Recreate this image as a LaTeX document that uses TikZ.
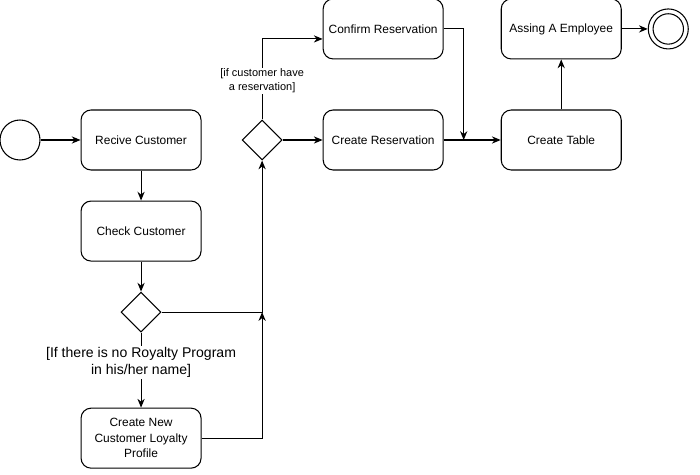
\documentclass[tikz,border=0pt]{standalone}
\usepackage{fontspec}
\setmainfont{Liberation Sans}
\usetikzlibrary{arrows.meta,positioning,shapes.geometric}

\tikzset{
	activity/.style={draw, rounded corners=0.25cm, minimum width=3cm, minimum height=1.5cm, align=center, font=\fontsize{8.5}{11}\selectfont},
	decision/.style={draw, diamond, minimum width=1cm, minimum height=1cm, inner sep=0pt},
	startstate/.style={draw, circle, minimum size=1cm, inner sep=0pt},
	endstate/.style={draw, circle, minimum size=1cm, inner sep=0pt, path picture={\draw (path picture bounding box.center) circle (0.38cm);}},
	flow/.style={-{Stealth[length=0.22cm,width=0.18cm]}},
	guard/.style={fill=white, align=center, inner sep=1pt, font=\fontsize{10}{12.2}\selectfont},
	cond/.style={fill=white, align=center, inner sep=1pt, font=\fontsize{7.8}{9.5}\selectfont}
}

\begin{document}
\begin{tikzpicture}[line width=0.75pt]
		
		\useasboundingbox (0,0) rectangle (17.5,-11.875);
		
		%start
		\node[startstate] (start) at (0.5,-3.5) {};
		%receive
		\node[activity, right=1cm of start] (rc) {Recive Customer};
		%check
		\node[activity, below=0.75cm of rc] (cc) {Check Customer};
		%first decision
		\node[decision, below=0.75cm of cc] (d1) {};
		%new profile
		\node[activity, below=1.875cm of d1] (cp) {Create New\\Customer Loyalty\\Profile};
		%second decision
		\node[decision, right=1cm of rc] (d2) {};
		%create reservation
		\node[activity, right=1cm of d2] (cr) {Create Reservation};
		%confirm reservation
		\node[activity, above=1.25cm of cr] (conf) {Confirm Reservation};
		%table
		\node[activity, right=1.425cm of cr] (ct) {Create Table};
		%employee
		\node[activity, above=1.25cm of ct] (ae) {Assing A Employee};
		%end
		\node[endstate, right=0.65cm of ae] (end) {};
		
		\coordinate (j1) at (d1.east -| d2.south);
		\coordinate (j2) at ([xshift=0.5cm]cr.east);
		\coordinate (c1) at ([yshift=-0.25cm]conf.west);
		
		\draw[flow] (start) -- (rc);
		\draw[flow] (rc) -- (cc);
		\draw[flow] (cc) -- (d1);
		\draw[flow] (d1) -- node[guard, pos=0.4] {[If there is no Royalty Program\\in his/her name]} (cp);
		\draw[flow] (d1.east) -| (d2.south);
		\draw[flow] (cp.east) -| (j1);
		\draw[flow] (d2.north) |- node[cond, pos=0.24] {[if customer have\\a reservation]} (c1);
		\draw[flow] (d2) -- (cr);
		\draw[flow] (conf.east) -| (j2);
		\draw[flow] (cr) -- (ct);
		\draw[flow] (ct) -- (ae);
		\draw[flow] (ae) -- (end);
		
\end{tikzpicture}
\end{document}
